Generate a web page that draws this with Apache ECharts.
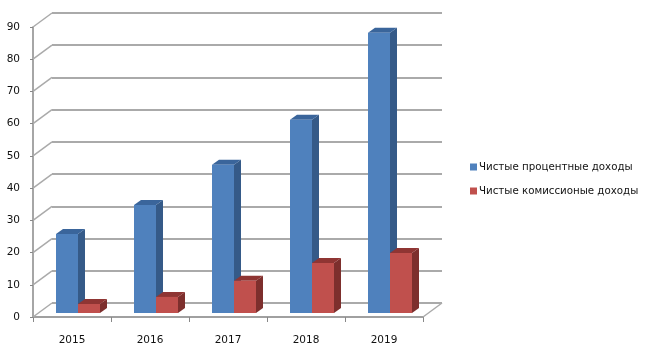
<!DOCTYPE html>
<html><head><meta charset="utf-8">
<style>html,body{margin:0;padding:0;background:#fff}#c{width:654px;height:356px}</style>
<script src="https://cdn.jsdelivr.net/npm/echarts@6/dist/echarts.min.js"></script>
</head><body><div id="c"></div>
<script>
const categories = ['2015','2016','2017','2018','2019'];
const netInterest = [24.5,33.5,46,60,87];
const netCommission = [2.8,5,10,15.5,18.6];
const tickValues = [0,10,20,30,40,50,60,70,80,90];
const seriesNames = ['Чистые процентные доходы','Чистые комиссионые доходы'];

const FONT = 'DejaVu Sans';
const GRID = '#aaaaaa';
const DX = 19, DY = 14, BDX = 6, BDY = 4, SX = 7, SY = 5, BW = 22;

const chart = echarts.init(document.getElementById('c'), null, {renderer:'canvas'});

function bar3d(front, side, top, shift) {
  return function (params, api) {
    const base = api.coord([api.value(0), 0]);
    const tip = api.coord([api.value(0), api.value(1)]);
    const x = base[0] + BDX + shift;
    const y0 = base[1] - BDY, h = base[1] - tip[1], y1 = y0 - h;
    return {type:'group', children:[
      {type:'polygon', shape:{points:[[x+BW,y0],[x+BW+SX,y0-SY],[x+BW+SX,y1-SY],[x+BW,y1]]}, style:{fill:side}},
      {type:'polygon', shape:{points:[[x,y1],[x+SX,y1-SY],[x+BW+SX,y1-SY],[x+BW,y1]]}, style:{fill:top}},
      {type:'rect', shape:{x:x,y:y1,width:BW,height:h}, style:{fill:front}}
    ]};
  };
}

chart.setOption({
  animation:false,
  backgroundColor:'#fff',
  textStyle:{fontFamily:FONT},
  legend:{
    orient:'vertical', left:470, top:162, padding:0, itemWidth:7, itemHeight:7, itemGap:14,
    icon:'rect', selectedMode:false,
    textStyle:{fontFamily:FONT,fontSize:10.25,color:'#111',padding:[0,0,0,-3]},
    data:seriesNames
  },
  grid:[
    {left:33,right:231,top:27,bottom:39},
    {left:52,right:212,top:13,bottom:53}
  ],
  xAxis:[
    {type:'category',gridIndex:0,data:categories,
     axisLine:{lineStyle:{color:'#a0a0a0',width:2}},
     axisTick:{show:true,alignWithLabel:false,length:5,lineStyle:{color:'#888',width:1}},
     axisLabel:{fontFamily:FONT,fontSize:10.5,color:'#111',margin:18}},
    {type:'category',gridIndex:1,data:categories,show:true,
     axisLine:{show:false},axisTick:{show:false},axisLabel:{show:false}}
  ],
  yAxis:[
    {type:'value',gridIndex:0,min:0,max:90,interval:10,
     axisLine:{show:true,lineStyle:{color:'#888',width:1.5}},
     axisTick:{show:true,length:3,lineStyle:{color:'#888',width:1}},
     splitLine:{show:false},
     axisLabel:{fontFamily:FONT,fontSize:10.5,color:'#111',margin:13}},
    {type:'value',gridIndex:1,min:0,max:90,interval:10,
     axisLine:{show:false},axisTick:{show:false},axisLabel:{show:false},
     splitLine:{show:true,lineStyle:{color:GRID,width:2}}}
  ],
  series:[
    {type:'custom',name:'connectors',xAxisIndex:0,yAxisIndex:0,silent:true,z:1,
     data:tickValues.map(v=>[0,v]),
     renderItem:function(params,api){
       const y=api.coord([0,api.value(1)])[1], x=params.coordSys.x;
       return {type:'line',shape:{x1:x,y1:y,x2:x+DX,y2:y-DY},style:{stroke:GRID,lineWidth:1.5}};
     }},
    {type:'custom',name:'floorEdge',xAxisIndex:0,yAxisIndex:0,silent:true,z:1,
     data:[[0,0]],
     renderItem:function(params,api){
       const y=api.coord([0,0])[1], x=params.coordSys.x+params.coordSys.width;
       return {type:'line',shape:{x1:x,y1:y,x2:x+DX,y2:y-DY},style:{stroke:GRID,lineWidth:1.5}};
     }},
    {type:'custom',name:seriesNames[0],xAxisIndex:0,yAxisIndex:0,z:3,
     itemStyle:{color:'#4f81bd'},
     data:netInterest.map((v,i)=>[i,v]),encode:{x:0,y:1},
     renderItem:bar3d('#4f81bd','#355a88','#3a659b',-BW)},
    {type:'custom',name:seriesNames[1],xAxisIndex:0,yAxisIndex:0,z:4,
     itemStyle:{color:'#c0504d'},
     data:netCommission.map((v,i)=>[i,v]),encode:{x:0,y:1},
     renderItem:bar3d('#c0504d','#7d2f2d','#8f3533',0)}
  ]
});
</script></body></html>
